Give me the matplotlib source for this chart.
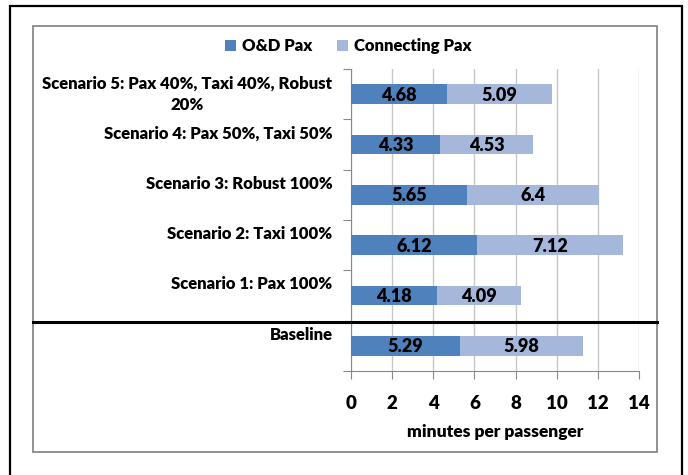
import matplotlib
matplotlib.use("Agg")
import matplotlib.pyplot as plt
from matplotlib.patches import Rectangle
from matplotlib.lines import Line2D

# data, bottom to top
categories = ["Baseline",
              "Scenario 1: Pax 100%",
              "Scenario 2: Taxi 100%",
              "Scenario 3: Robust 100%",
              "Scenario 4: Pax 50%, Taxi 50%",
              "Scenario 5: Pax 40%, Taxi 40%, Robust\n20%"]
od_pax = [5.29, 4.18, 6.12, 5.65, 4.33, 4.68]
conn_pax = [5.98, 4.09, 7.12, 6.4, 4.53, 5.09]
xticks = [0, 2, 4, 6, 8, 10, 12, 14]

plt.rcParams['font.family'] = ['Lato', 'DejaVu Sans']
plt.rcParams['font.weight'] = 'bold'

dark = "#4F81BD"
light = "#A5B8DB"
W, H = 688, 475

fig = plt.figure(figsize=(6.88, 4.75), dpi=100)
ax = fig.add_axes([351 / W, 1 - 371 / H, 288 / W, 302 / H])

y = list(range(len(categories)))
ax.barh(y, od_pax, height=0.39, color=dark, label="O&D Pax", zorder=3)
ax.barh(y, conn_pax, left=od_pax, height=0.39, color=light, label="Connecting Pax", zorder=3)

for i in y:
    ax.text(od_pax[i] / 2, i - 0.02, str(od_pax[i]), ha='center', va='center',
            fontsize=13, fontweight='heavy', zorder=4)
    ax.text(od_pax[i] + conn_pax[i] / 2, i - 0.02, str(conn_pax[i]), ha='center', va='center',
            fontsize=13, fontweight='heavy', zorder=4)
    off = 0.0 if "\n" in categories[i] else 0.22
    ax.text(-0.9, i + off, categories[i], ha='right', va='center', fontsize=12,
            fontweight='heavy', clip_on=False, linespacing=1.45,
            multialignment='center')

ax.set_xlim(0, 14)
ax.set_ylim(-0.5, 5.5)
ax.set_xticks(xticks)
ax.set_xticklabels([str(t) for t in xticks], fontsize=13.5, fontweight='heavy')
ax.tick_params(axis='x', length=6, color='#888888', pad=11)
ax.set_yticks([v + 0.5 for v in range(-1, 6)])
ax.set_yticklabels([])
ax.tick_params(axis='y', length=6, color='#888888')
ax.grid(axis='x', color='#C8C8C8', linewidth=1, zorder=0)
for s in ['top', 'right']:
    ax.spines[s].set_visible(False)
for s in ['left', 'bottom']:
    ax.spines[s].set_color('#888888')
ax.set_xlabel("minutes per passenger", fontsize=12.5, fontweight='heavy', labelpad=9)

leg = fig.legend(loc='center', bbox_to_anchor=(348 / W, 1 - 46 / H), ncol=2,
                 frameon=False, prop={'size': 12, 'weight': 'heavy'},
                 handlelength=0.65, handleheight=0.65,
                 columnspacing=1.5, handletextpad=0.35)

# frames
fig.add_artist(Rectangle((10 / W, -0.02), 672 / W, 1.02 - 6 / H, fill=False,
                         edgecolor='black', linewidth=1.6, transform=fig.transFigure))
fig.add_artist(Rectangle((33 / W, 1 - 452 / H), 624 / W, 426 / H, fill=False,
                         edgecolor='#7F7F7F', linewidth=1.2, transform=fig.transFigure))
fig.add_artist(Line2D([33 / W, 657 / W], [1 - 322 / H, 1 - 322 / H], color='black',
                      linewidth=2.2, transform=fig.transFigure))

fig.savefig("out.png", dpi=100)
